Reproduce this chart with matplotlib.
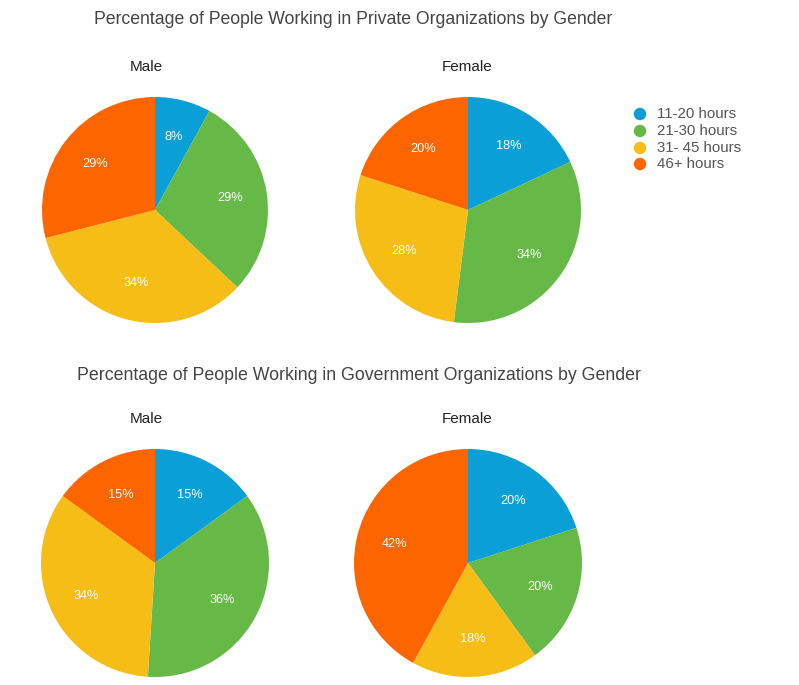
import matplotlib
matplotlib.use('Agg')
import matplotlib.pyplot as plt

categories = ['11-20 hours', '21-30 hours', '31- 45 hours', '46+ hours']
colors = ['#0b9fd8', '#66b947', '#f6bd16', '#fd6500']

private_male = [8, 29, 34, 29]
private_female = [18, 34, 28, 20]
gov_male = [15, 36, 34, 15]
gov_female = [20, 20, 18, 42]

W, H = 799, 685
plt.rcParams['font.family'] = ['Liberation Sans', 'DejaVu Sans']
fig = plt.figure(figsize=(W / 100, H / 100), dpi=100)

def pie_at(cx, cy, r, values):
    ax = fig.add_axes([(cx - r) / W, 1 - (cy + r) / H, 2 * r / W, 2 * r / H])
    ax.pie(values, colors=colors, startangle=90, counterclock=False,
           autopct='%d%%', pctdistance=0.67, radius=1,
           textprops=dict(color='white', fontsize=9.2))
    ax.set_xlim(-1, 1)
    ax.set_ylim(-1, 1)
    ax.set_aspect('auto')

def label(x, y, s, **kw):
    fig.text(x / W, 1 - y / H, s, ha='center', va='center', **kw)

label(353, 20, 'Percentage of People Working in Private Organizations by Gender',
      fontsize=12.7, color='#444444')
label(359, 376, 'Percentage of People Working in Government Organizations by Gender',
      fontsize=12.8, color='#444444')
label(146, 67, 'Male', fontsize=11, color='#222222')
label(467, 67, 'Female', fontsize=11, color='#222222')
label(146, 419, 'Male', fontsize=11, color='#222222')
label(467, 419, 'Female', fontsize=11, color='#222222')

pie_at(155, 210, 113, private_male)
pie_at(468, 210, 113, private_female)
pie_at(155, 563, 114, gov_male)
pie_at(468, 563, 114, gov_female)

# legend
lax = fig.add_axes([0, 0, 1, 1])
lax.set_xlim(0, W)
lax.set_ylim(H, 0)
lax.axis('off')
ys = [114, 131, 148, 164]
for y, lab, c in zip(ys, categories, colors):
    lax.scatter([640], [y], s=80, color=c, edgecolors='none')
    lax.text(657, y, lab, color='#555555', fontsize=10.8, ha='left', va='center')

plt.savefig('out.png', dpi=100)
